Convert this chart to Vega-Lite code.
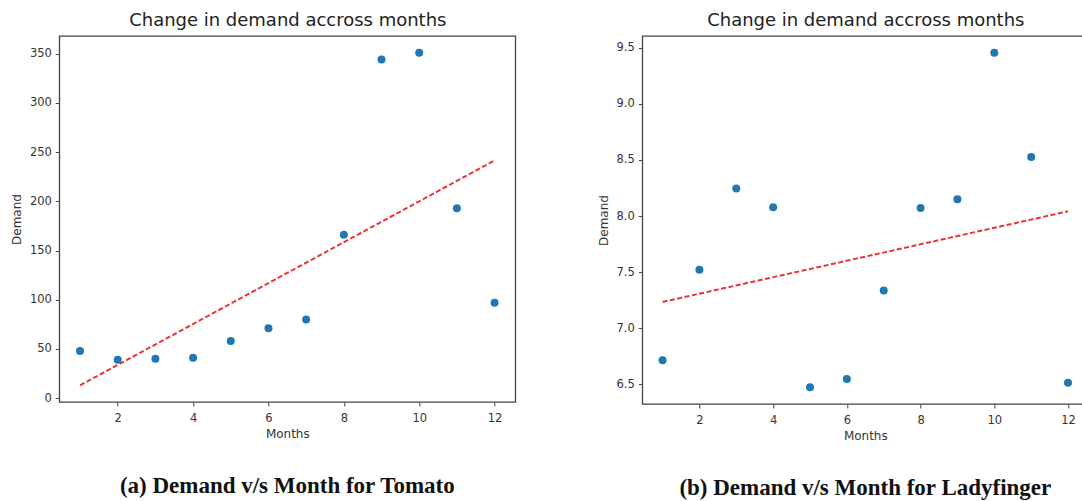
{
  "$schema": "https://vega.github.io/schema/vega-lite/v6.json",
  "background": "white",
  "padding": {"left": 9.3, "top": 10, "right": 0, "bottom": 0},
  "spacing": 80,
  "datasets": {
    "tomato": [
      {"month": 1, "demand": 48}, {"month": 2, "demand": 39}, {"month": 3, "demand": 40},
      {"month": 4, "demand": 41}, {"month": 5, "demand": 58}, {"month": 6, "demand": 71},
      {"month": 7, "demand": 80}, {"month": 8, "demand": 166}, {"month": 9, "demand": 344},
      {"month": 10, "demand": 351}, {"month": 11, "demand": 193}, {"month": 12, "demand": 97}
    ],
    "tomatoFit": [{"month": 1, "demand": 13}, {"month": 12, "demand": 241.5}],
    "lady": [
      {"month": 1, "demand": 6.713}, {"month": 2, "demand": 7.522}, {"month": 3, "demand": 8.245},
      {"month": 4, "demand": 8.078}, {"month": 5, "demand": 6.473}, {"month": 6, "demand": 6.547},
      {"month": 7, "demand": 7.336}, {"month": 8, "demand": 8.072}, {"month": 9, "demand": 8.149},
      {"month": 10, "demand": 9.456}, {"month": 11, "demand": 8.526}, {"month": 12, "demand": 6.514}
    ],
    "ladyFit": [{"month": 1, "demand": 7.234}, {"month": 12, "demand": 8.042}]
  },
  "config": {
    "view": {"stroke": "#444", "strokeWidth": 1.3},
    "font": "DejaVu Sans",
    "axis": {
      "grid": false, "domain": false, "tickColor": "#444", "tickSize": 4, "tickWidth": 1,
      "labelFont": "DejaVu Sans", "labelFontSize": 11.5, "labelColor": "#333", "labelPadding": 6.5,
      "titleFont": "DejaVu Sans", "titleFontSize": 12, "titleFontWeight": "normal", "titleColor": "#333"
    }
  },
  "hconcat": [
    {
      "width": 456, "height": 366,
      "title": {"text": "(a) Demand v/s Month for Tomato", "orient": "bottom", "frame": "group", "anchor": "middle", "font": "Liberation Serif", "fontSize": 23, "fontWeight": "bold", "color": "#111", "offset": 35},
      "resolve": {"axis": {"x": "independent"}},
      "layer": [
        {
          "data": {"name": "tomato"},
          "mark": {"type": "point", "filled": true, "size": 64, "color": "#1f77b4", "opacity": 1},
          "encoding": {
            "x": {"field": "month", "type": "quantitative", "scale": {"domain": [0.45, 12.55], "nice": false, "zero": false},
                  "axis": {"orient": "bottom", "title": "Months", "values": [2, 4, 6, 8, 10, 12], "titlePadding": 5}},
            "y": {"field": "demand", "type": "quantitative", "scale": {"domain": [-3.9, 367.9], "nice": false, "zero": false},
                  "axis": {"title": "Demand", "values": [0, 50, 100, 150, 200, 250, 300, 350], "labelPadding": 4, "titlePadding": 6}}
          }
        },
        {
          "data": {"name": "tomatoFit"},
          "mark": {"type": "line", "color": "#ee3333", "strokeWidth": 2, "strokeDash": [5, 2.5]},
          "encoding": {
            "x": {"field": "month", "type": "quantitative",
                  "axis": {"orient": "top", "title": "Change in demand accross months", "labels": false, "ticks": false, "domain": false, "titleFontSize": 18, "titlePadding": 7, "titleColor": "#222"}},
            "y": {"field": "demand", "type": "quantitative"}
          }
        }
      ]
    },
    {
      "width": 446, "height": 368,
      "title": {"text": "(b) Demand v/s Month for Ladyfinger", "orient": "bottom", "frame": "group", "anchor": "middle", "font": "Liberation Serif", "fontSize": 23, "fontWeight": "bold", "color": "#111", "offset": 35},
      "resolve": {"axis": {"x": "independent"}},
      "layer": [
        {
          "data": {"name": "lady"},
          "mark": {"type": "point", "filled": true, "size": 64, "color": "#1f77b4", "opacity": 1},
          "encoding": {
            "x": {"field": "month", "type": "quantitative", "scale": {"domain": [0.45, 12.55], "nice": false, "zero": false},
                  "axis": {"orient": "bottom", "title": "Months", "values": [2, 4, 6, 8, 10, 12], "titlePadding": 5}},
            "y": {"field": "demand", "type": "quantitative", "scale": {"domain": [6.324, 9.605], "nice": false, "zero": false},
                  "axis": {"title": "Demand", "values": [6.5, 7, 7.5, 8, 8.5, 9, 9.5], "format": ".1f", "labelPadding": 4, "titlePadding": 6}}
          }
        },
        {
          "data": {"name": "ladyFit"},
          "mark": {"type": "line", "color": "#ee3333", "strokeWidth": 2, "strokeDash": [5, 2.5]},
          "encoding": {
            "x": {"field": "month", "type": "quantitative",
                  "axis": {"orient": "top", "title": "Change in demand accross months", "labels": false, "ticks": false, "domain": false, "titleFontSize": 18, "titlePadding": 7, "titleColor": "#222"}},
            "y": {"field": "demand", "type": "quantitative"}
          }
        }
      ]
    }
  ]
}
